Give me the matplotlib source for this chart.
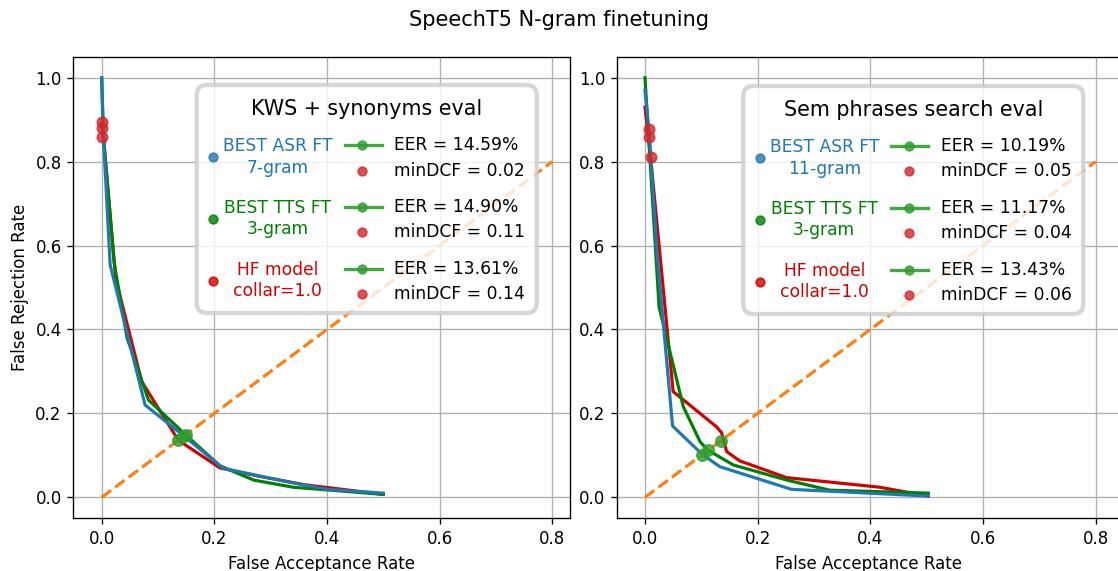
import matplotlib
matplotlib.use("Agg")
import matplotlib.pyplot as plt
from matplotlib.patches import FancyBboxPatch
from matplotlib.lines import Line2D

# ---------------- data ----------------
# KWS + synonyms eval
kws_asr_far = [0.0, 0.003, 0.015, 0.077, 0.146, 0.216, 0.33, 0.40, 0.50]
kws_asr_frr = [1.0, 0.86, 0.554, 0.220, 0.146, 0.069, 0.037, 0.019, 0.010]
kws_tts_far = [0.0, 0.003, 0.022, 0.045, 0.083, 0.149, 0.21, 0.27, 0.34, 0.50]
kws_tts_frr = [1.0, 0.86, 0.56, 0.38, 0.232, 0.149, 0.075, 0.041, 0.024, 0.007]
kws_hf_far = [0.0, 0.003, 0.025, 0.071, 0.136, 0.21, 0.28, 0.36, 0.50]
kws_hf_frr = [0.89, 0.86, 0.52, 0.276, 0.136, 0.070, 0.050, 0.030, 0.007]
kws_eer = [14.59, 14.90, 13.61]
kws_mindcf = [0.02, 0.11, 0.14]
kws_mindcf_far = [0.001, 0.001, 0.0]
kws_mindcf_frr = [0.895, 0.879, 0.858]

# Sem phrases search eval
sem_asr_far = [0.0, 0.008, 0.021, 0.033, 0.049, 0.102, 0.133, 0.26, 0.503]
sem_asr_frr = [0.97, 0.86, 0.589, 0.407, 0.170, 0.102, 0.073, 0.019, 0.003]
sem_tts_far = [0.0, 0.025, 0.068, 0.098, 0.112, 0.157, 0.252, 0.328, 0.503]
sem_tts_frr = [1.0, 0.454, 0.216, 0.132, 0.112, 0.077, 0.041, 0.017, 0.010]
sem_hf_far = [0.0, 0.01, 0.05, 0.127, 0.136, 0.145, 0.168, 0.251, 0.417, 0.503]
sem_hf_frr = [0.93, 0.81, 0.252, 0.168, 0.154, 0.109, 0.087, 0.047, 0.024, 0.003]
sem_eer = [10.19, 11.17, 13.43]
sem_mindcf = [0.05, 0.04, 0.06]
sem_mindcf_far = [0.008, 0.008, 0.010]
sem_mindcf_frr = [0.877, 0.858, 0.812]

model_labels_kws = ["BEST ASR FT\n7-gram", "BEST TTS FT\n3-gram", "HF model\ncollar=1.0"]
model_labels_sem = ["BEST ASR FT\n11-gram", "BEST TTS FT\n3-gram", "HF model\ncollar=1.0"]
diag = [0.0, 0.8]

C_ASR = "#1f77b4"
C_TTS = "#008000"
C_HF = "#d40000"
C_EER = "#2ca02c"
C_DCF = "#d62728"
C_DIAG = "#ff7f0e"

W, H, DPI = 1118, 571, 120
fig = plt.figure(figsize=(W / DPI, H / DPI), dpi=DPI)


def rect(l, t, r, b):
    return [l / W, 1 - b / H, (r - l) / W, (b - t) / H]


ax1 = fig.add_axes(rect(73.3, 56.7, 570.0, 518.3))
ax2 = fig.add_axes(rect(616.7, 56.7, 1120.0, 518.3))

fig.suptitle("SpeechT5 N-gram finetuning", fontsize=12.5, y=1 - 20 / H, va="center")


def fig_xy(px, py):
    return px / W, 1 - py / H


def legend_panel(ax, left, top, title, model_labels, eer, mindcf):
    """Grouped legend: model names on the left, their EER / minDCF on the right."""
    colors = [C_ASR, C_TTS, C_HF]
    tr = fig.transFigure
    x0, y0 = fig_xy(left, top)
    x1, y1 = fig_xy(left + 340, top + 228)
    frame = FancyBboxPatch((x0, y1), x1 - x0, y0 - y1, transform=tr,
                           boxstyle=f"round,pad=0,rounding_size={10 / W}",
                           mutation_aspect=W / H,
                           facecolor=(1, 1, 1, 0.8), edgecolor=(0.8, 0.8, 0.8, 0.8),
                           linewidth=2.6, zorder=10, clip_on=False)
    ax.add_artist(frame)
    tx, ty = fig_xy(left + 170, top + 24)
    ax.text(tx, ty, title, transform=tr, ha="center", va="center",
            fontsize=12.4, zorder=11, clip_on=False)
    dot_dy = [72, 133.5, 195.5]
    eer_dy = [60, 122, 184]
    dcf_dy = [85.5, 147, 209]
    for i in range(3):
        mx, my = fig_xy(left + 16.6, top + dot_dy[i])
        ax.add_line(Line2D([mx], [my], transform=tr, marker="o", markersize=5.2,
                           color=colors[i], alpha=0.8, linestyle="none",
                           zorder=11, clip_on=False))
        lx, ly = fig_xy(left + 81, top + dot_dy[i])
        ax.text(lx, ly, model_labels[i], transform=tr, ha="center", va="center",
                multialignment="center", linespacing=1.25, fontsize=10.3,
                color=colors[i], zorder=11, clip_on=False)
        ax_a, ey = fig_xy(left + 148, top + eer_dy[i])
        ax_b, _ = fig_xy(left + 185, top + eer_dy[i])
        ax_m, _ = fig_xy(left + 165.5, top + eer_dy[i])
        ax.add_line(Line2D([ax_a, ax_b], [ey, ey], transform=tr, color=C_EER,
                           linewidth=2.0, alpha=0.9, zorder=11, clip_on=False))
        ax.add_line(Line2D([ax_m], [ey], transform=tr, marker="o", markersize=5.2,
                           color=C_EER, alpha=0.8, linestyle="none",
                           zorder=11, clip_on=False))
        _, dy = fig_xy(0, top + dcf_dy[i])
        ax.add_line(Line2D([ax_m], [dy], transform=tr, marker="o", markersize=5.2,
                           color=C_DCF, alpha=0.8, linestyle="none",
                           zorder=11, clip_on=False))
        txx, _ = fig_xy(left + 197.5, 0)
        ax.text(txx, ey, f"EER = {eer[i]:.2f}%", transform=tr, ha="left",
                va="center", fontsize=10.3, zorder=11, clip_on=False)
        ax.text(txx, dy, f"minDCF = {mindcf[i]:.2f}", transform=tr, ha="left",
                va="center", fontsize=10.3, zorder=11, clip_on=False)


def draw_panel(ax, curves, eer, mindcf_far, mindcf_frr):
    ax.grid(True, color="#b0b0b0", linewidth=0.8)
    ax.set_axisbelow(True)
    for far, frr, c in curves:
        ax.plot(far, frr, color=c, linewidth=1.9)
    ax.plot(diag, diag, color=C_DIAG, linestyle="--", linewidth=1.9)
    for e in eer:
        ax.plot([e / 100], [e / 100], marker="o", markersize=6.8, color=C_EER,
                alpha=0.8, linestyle="none")
    for fa, fr in zip(mindcf_far, mindcf_frr):
        ax.plot([fa], [fr], marker="o", markersize=6.2, color=C_DCF,
                alpha=0.8, linestyle="none")
    ax.set_ylim(-0.05, 1.05)
    ax.set_yticks([0.0, 0.2, 0.4, 0.6, 0.8, 1.0])
    ax.set_xticks([0.0, 0.2, 0.4, 0.6, 0.8])
    ax.set_xlabel("False Acceptance Rate")


draw_panel(ax1, [(kws_hf_far, kws_hf_frr, C_HF), (kws_tts_far, kws_tts_frr, C_TTS),
                 (kws_asr_far, kws_asr_frr, C_ASR)],
           kws_eer, kws_mindcf_far, kws_mindcf_frr)
ax1.set_xlim(-0.0504, 0.8313)
ax1.set_ylabel("False Rejection Rate")

draw_panel(ax2, [(sem_hf_far, sem_hf_frr, C_HF), (sem_tts_far, sem_tts_frr, C_TTS),
                 (sem_asr_far, sem_asr_frr, C_ASR)],
           sem_eer, sem_mindcf_far, sem_mindcf_frr)
ax2.set_xlim(-0.0502, -0.0502 + (1120.0 - 616.7) / 563.3)

legend_panel(ax1, 196.7, 85, "KWS + synonyms eval", model_labels_kws, kws_eer, kws_mindcf)
legend_panel(ax2, 743.3, 86, "Sem phrases search eval", model_labels_sem, sem_eer, sem_mindcf)

fig.savefig("out.png", dpi=DPI)
